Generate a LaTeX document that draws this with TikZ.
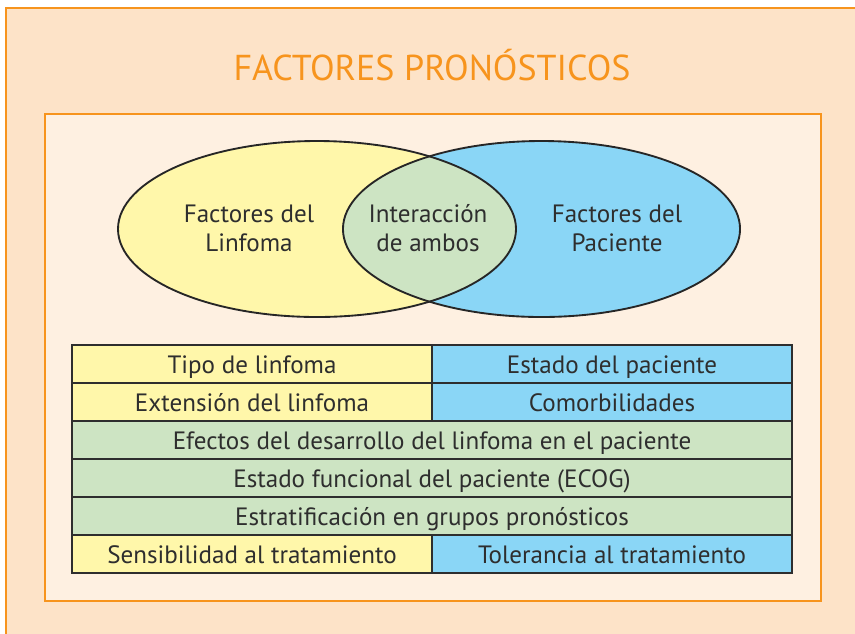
\documentclass[tikz,border=0pt]{standalone}
\usepackage{fontspec}
\setmainfont{PT Sans}
\usetikzlibrary{positioning}
\definecolor{orangeline}{HTML}{F7941D}
\definecolor{outerfill}{HTML}{FDE3C8}
\definecolor{innerfill}{HTML}{FEF0E1}
\definecolor{lymyellow}{HTML}{FFF7AA}
\definecolor{patblue}{HTML}{8AD6F6}
\definecolor{bothgreen}{HTML}{CDE4C3}
\definecolor{textgray}{HTML}{2E2E2E}
\tikzset{
  cell/.style={draw=textgray, line width=1.5pt, minimum height=28.5pt, inner sep=0pt, outer sep=0pt,
    text height=15pt, text depth=1.5pt, text=textgray, font=\fontsize{18.8}{21}\selectfont},
  halfcell/.style={cell, minimum width=270pt},
  fullcell/.style={cell, minimum width=540pt, fill=bothgreen},
  venntext/.style={align=center, text=textgray, font=\fontsize{18.8}{21.75}\selectfont}
}

\begin{document}
\begin{tikzpicture}[x=0.75pt,y=-0.75pt]
\useasboundingbox (0,0) rectangle (855,633);
\draw[draw=orangeline, line width=2pt, fill=outerfill] (6,8) rectangle (900,680);
\node[text=orangeline, font=\fontsize{27}{30}\selectfont] (title) at (432,65) {FACTORES PRONÓSTICOS};
\draw[draw=orangeline, line width=2pt, fill=innerfill] (45,114) rectangle (821,601);

\fill[lymyellow] (317,229) ellipse [x radius=149.25pt, y radius=66pt];
\fill[patblue] (541.5,229) ellipse [x radius=148.9pt, y radius=66pt];
\begin{scope}
\clip (317,229) ellipse [x radius=149.25pt, y radius=66pt];
\fill[bothgreen] (541.5,229) ellipse [x radius=148.9pt, y radius=66pt];
\end{scope}
\draw[line width=1.4pt, draw=black!85] (317,229) ellipse [x radius=149.25pt, y radius=66pt];
\draw[line width=1.4pt, draw=black!85] (541.5,229) ellipse [x radius=148.9pt, y radius=66pt];
\node[venntext] (lymph) at (249,228) {Factores del\\Linfoma};
\node[venntext] (both) at (428,228) {Interacción\\de ambos};
\node[venntext] (patient) at (617,228) {Factores del\\Paciente};

\node[halfcell, fill=lymyellow] (tipo) at (252,364) {Tipo de linfoma};
\node[halfcell, fill=patblue, right=0pt of tipo] (estado) {Estado del paciente};
\node[halfcell, fill=lymyellow] (extension) at (252,402) {Extensión del linfoma};
\node[halfcell, fill=patblue, right=0pt of extension] (comorb) {Comorbilidades};
\node[fullcell] (efectos) at (432,440) {Efectos del desarrollo del linfoma en el paciente};
\node[fullcell] (ecog) at (432,478) {Estado funcional del paciente (ECOG)};
\node[fullcell] (grupos) at (432,516) {Estratificación en grupos pronósticos};
\node[halfcell, fill=lymyellow] (sensib) at (252,554) {Sensibilidad al tratamiento};
\node[halfcell, fill=patblue, right=0pt of sensib] (toler) {Tolerancia al tratamiento};

\end{tikzpicture}
\end{document}
